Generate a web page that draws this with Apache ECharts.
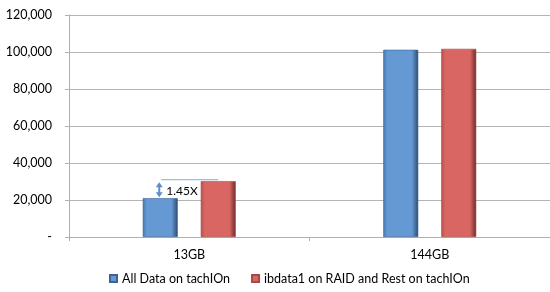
<!DOCTYPE html>
<html><head><meta charset="utf-8">
<script src="https://cdn.jsdelivr.net/npm/echarts@6/dist/echarts.min.js"></script>
<style>html,body{margin:0;padding:0;background:#fff}#c{width:550px;height:292px}</style>
</head><body><div id="c"></div>
<script>
const categories = ['13GB', '144GB'];
const seriesNames = ['All Data on tachIOn', 'ibdata1 on RAID and Rest on tachIOn'];
const allDataOnTachion = [21000, 101200];
const ibdataOnRaid = [30200, 101700];
const yTicks = [0, 20000, 40000, 60000, 80000, 100000, 120000];
const annotation = { category: '13GB', from: 21000, to: 30200, label: '1.45X' };

const FONT = 'Lato';
const chart = echarts.init(document.getElementById('c'));
function grad(l, m, r) {
  return new echarts.graphic.LinearGradient(0, 0, 1, 0, [
    {offset: 0, color: l}, {offset: 0.12, color: m}, {offset: 0.82, color: m}, {offset: 1, color: r}
  ]);
}
const BW = 35, GAP = 23;
chart.setOption({
  animation: false,
  grid: {left: 69, width: 492, top: 15, bottom: 55},
  legend: {
    bottom: 2, left: 104, itemWidth: 7, itemHeight: 7, itemGap: 21,
    icon: 'rect',
    textStyle: {fontFamily: FONT, fontSize: 12.5, color: '#000'},
    data: seriesNames
  },
  xAxis: {
    type: 'category', data: categories,
    axisLine: {lineStyle: {color: '#b0b0b0'}},
    axisTick: {show: true, length: 4, lineStyle: {color: '#b0b0b0'}},
    axisLabel: {fontFamily: FONT, fontSize: 12.5, color: '#000', margin: 11}
  },
  yAxis: {
    type: 'value', min: yTicks[0], max: yTicks[yTicks.length - 1], interval: yTicks[1] - yTicks[0],
    axisLine: {show: true, lineStyle: {color: '#b0b0b0'}},
    axisTick: {show: true, length: 4, lineStyle: {color: '#b0b0b0'}},
    splitLine: {lineStyle: {color: '#b4b4b4'}},
    axisLabel: {fontFamily: FONT, fontSize: 12.5, color: '#000', margin: 17,
      formatter: v => v === 0 ? '-' : v.toLocaleString('en-US')}
  },
  series: [
    {name: seriesNames[0], type: 'bar', data: allDataOnTachion, barWidth: BW, barGap: (GAP / BW * 100) + '%',
     itemStyle: {color: grad('#4b78b0', '#6499d4', '#2c4a70'), borderColor: '#3d6594', borderWidth: 0.6}},
    {name: seriesNames[1], type: 'bar', data: ibdataOnRaid, barWidth: BW,
     itemStyle: {color: grad('#b8504d', '#d96662', '#6e2a28'), borderColor: '#a54a47', borderWidth: 0.6}},
    {
      type: 'custom', name: 'annot', silent: true, legendHoverLink: false,
      data: [[annotation.category, annotation.from, annotation.to]],
      renderItem: function (params, api) {
        const pTop = api.coord([api.value(0), api.value(2)]);
        const pBot = api.coord([api.value(0), api.value(1)]);
        const off = (BW + GAP) / 2;
        const xa = pTop[0] - off - 1;
        const xr = pTop[0] + off;
        const yt = pTop[1] + 1, yb = pBot[1] - 1;
        const c = '#5b8fcc';
        return {type: 'group', children: [
          {type: 'line', shape: {x1: xa + 2, y1: pTop[1] - 1.5, x2: xr, y2: pTop[1] - 1.5}, style: {stroke: '#9dbde0', lineWidth: 1.2}},
          {type: 'line', shape: {x1: xa, y1: yt + 3, x2: xa, y2: yb - 3}, style: {stroke: c, lineWidth: 2}},
          {type: 'polygon', shape: {points: [[xa - 3.5, yt + 5], [xa + 3.5, yt + 5], [xa, yt]]}, style: {fill: c}},
          {type: 'polygon', shape: {points: [[xa - 3.5, yb - 5], [xa + 3.5, yb - 5], [xa, yb]]}, style: {fill: c}},
          {type: 'text', style: {text: annotation.label, x: xa + 7, y: (yt + yb) / 2 + 1, textVerticalAlign: 'middle',
            font: '12px ' + FONT, fill: '#000'}}
        ]};
      },
      z: 5
    }
  ]
});
</script></body></html>
